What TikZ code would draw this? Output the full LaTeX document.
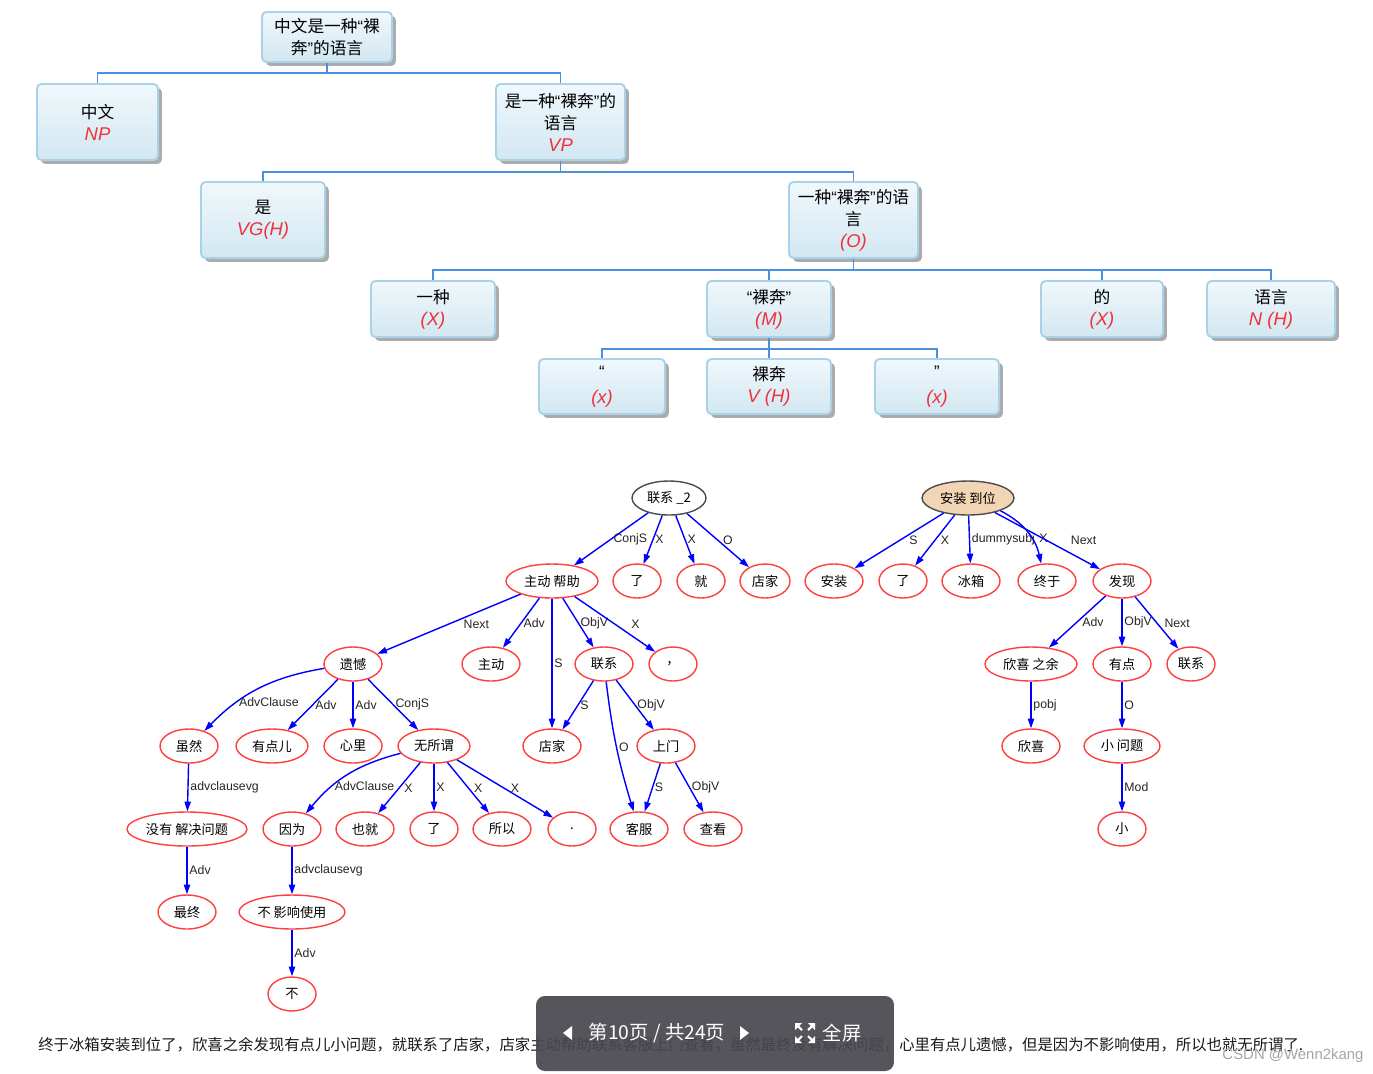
\documentclass[tikz,border=0pt]{standalone}
\usepackage{fontspec}
\setmainfont{Liberation Sans}
\newfontfamily\cjk{Noto Sans CJK SC}
\usetikzlibrary{shapes.geometric,shadows,arrows.meta}
\definecolor{boxblue}{HTML}{A9D2E8}
\definecolor{boxtop}{HTML}{F0F8FC}
\definecolor{boxbot}{HTML}{D2E7F1}
\definecolor{treeblue}{HTML}{4A90E2}
\definecolor{tagred}{HTML}{F0303A}
\definecolor{dotred}{HTML}{FF4040}
\definecolor{rootfill}{HTML}{F2D5B4}
\definecolor{barfill}{HTML}{47474E}
\newcommand\tg[1]{{\normalfont\itshape\fontsize{10.5}{12}\selectfont\color{tagred}#1}}
\newcommand\qo{{\normalfont “}}
\newcommand\qc{{\normalfont ”}}

\begin{document}
\begin{tikzpicture}[x=0.02cm,y=-0.02cm]
\tikzset{tbox/.style={rectangle, rounded corners=2.5pt, draw=boxblue, line width=1.1pt, top color=boxtop, bottom color=boxbot, align=center, inner sep=0pt, font=\cjk\fontsize{9.5}{12.5}\selectfont, drop shadow={shadow xshift=2.2pt, shadow yshift=-2.2pt, fill=black!55, opacity=0.6}}}
\tikzset{tline/.style={draw=treeblue, line width=0.9pt}}
\tikzset{wnode/.style={ellipse, draw=dotred, line width=0.8pt, fill=white, inner sep=0pt, minimum height=0.68cm, minimum width=#1*0.02cm, font=\cjk\fontsize{7.5}{9}\selectfont}, wnode/.default=58}
\tikzset{dep/.style={draw=blue, line width=0.8pt, -{Triangle[length=5.5pt,width=3.6pt]}}}
\tikzset{lbl/.style={anchor=west, inner sep=1pt, font=\fontsize{7}{8}\selectfont, text=black!85}}
\fill[white] (0,0) rectangle (1373,1073);
\useasboundingbox (0,0) rectangle (1373,1073);

% phrase tree
\node[tbox, minimum width=2.6cm, minimum height=1cm] (B0) at (327,37) {中文是一种\qo 裸\\奔\qc 的语言};
\node[tbox, minimum width=2.42cm, minimum height=1.52cm] (B1) at (97.5,122) {中文\\\tg{NP}};
\node[tbox, minimum width=2.58cm, minimum height=1.52cm] (B2) at (560.5,122) {是一种\qo 裸奔\qc 的\\语言\\\tg{VP}};
\node[tbox, minimum width=2.48cm, minimum height=1.52cm] (B3) at (263,220) {是\\\tg{VG(H)}};
\node[tbox, minimum width=2.58cm, minimum height=1.52cm] (B4) at (853.5,220) {一种\qo 裸奔\qc 的语\\言\\\tg{(O)}};
\node[tbox, minimum width=2.48cm, minimum height=1.12cm] (B5) at (433,309) {一种\\\tg{(X)}};
\node[tbox, minimum width=2.48cm, minimum height=1.12cm] (B6) at (769,309) {\qo 裸奔\qc\\\tg{(M)}};
\node[tbox, minimum width=2.44cm, minimum height=1.12cm] (B7) at (1102,309) {的\\\tg{(X)}};
\node[tbox, minimum width=2.56cm, minimum height=1.12cm] (B8) at (1271,309) {语言\\\tg{N (H)}};
\node[tbox, minimum width=2.52cm, minimum height=1.1cm] (B9) at (602,386.5) {\qo\\[2pt]\tg{(x)}};
\node[tbox, minimum width=2.48cm, minimum height=1.1cm] (B10) at (769,386.5) {裸奔\\\tg{V (H)}};
\node[tbox, minimum width=2.48cm, minimum height=1.1cm] (B11) at (937,386.5) {\qc\\[2pt]\tg{(x)}};
\draw[tline] (B0.south) -- ++(0,10) -| (B1.north);
\draw[tline] (B0.south) -- ++(0,10) -| (B2.north);
\draw[tline] (B2.south) -- ++(0,11) -| (B3.north);
\draw[tline] (B2.south) -- ++(0,11) -| (B4.north);
\draw[tline] (B4.south) -- ++(0,11) -| (B5.north);
\draw[tline] (B4.south) -- ++(0,11) -| (B6.north);
\draw[tline] (B4.south) -- ++(0,11) -| (B7.north);
\draw[tline] (B4.south) -- ++(0,11) -| (B8.north);
\draw[tline] (B6.south) -- ++(0,11) -| (B9.north);
\draw[tline] (B6.south) -- ++(0,11) -| (B10.north);
\draw[tline] (B6.south) -- ++(0,11) -| (B11.north);

% dependency graph
\node[wnode=74, draw=black!70] (lx2) at (669,498) {联系 \_2};
\node[wnode=92, draw=black!70, fill=rootfill] (azdw) at (968,498) {安装 到位};
\node[wnode=92] (zdbz) at (552,581) {主动 帮助};
\node[wnode=48] (le1) at (637,581) {了};
\node[wnode=48] (jiu) at (701,581) {就};
\node[wnode=50] (dj1) at (765,581) {店家};
\node[wnode] (az) at (834,581) {安装};
\node[wnode=48] (le2) at (903,581) {了};
\node[wnode] (bx) at (971,581) {冰箱};
\node[wnode] (zy) at (1047,581) {终于};
\node[wnode] (fx) at (1122,581) {发现};
\node[wnode] (yh) at (353,664) {遗憾};
\node[wnode] (zd) at (491,664) {主动};
\node[wnode] (lx) at (604,664) {联系};
\node[wnode=48] (dh) at (673,664) {，};
\node[wnode=92] (xxzy) at (1031,664) {欣喜 之余};
\node[wnode] (yd) at (1122,664) {有点};
\node[wnode=48] (lx3) at (1191,664) {联系};
\node[wnode] (sr) at (189,746) {虽然};
\node[wnode=72] (ydr) at (272,746) {有点儿};
\node[wnode] (xl) at (353,746) {心里};
\node[wnode=72] (wsw) at (434,746) {无所谓};
\node[wnode] (dj2) at (552,746) {店家};
\node[wnode] (sm) at (666,746) {上门};
\node[wnode] (xx) at (1031,746) {欣喜};
\node[wnode=76] (xwt) at (1122,746) {小 问题};
\node[wnode=120] (myjj) at (187,829) {没有 解决问题};
\node[wnode] (yw) at (292,829) {因为};
\node[wnode] (yj) at (365,829) {也就};
\node[wnode=48] (le3) at (434,829) {了};
\node[wnode] (sy) at (502,829) {所以};
\node[wnode=48] (jh) at (572,829) {.};
\node[wnode] (kf) at (639,829) {客服};
\node[wnode] (kk) at (713,829) {查看};
\node[wnode=48] (xiao) at (1122,829) {小};
\node[wnode] (zz) at (187,912) {最终};
\node[wnode=106] (bysy) at (292,912) {不 影响使用};
\node[wnode=48] (bu) at (292,994) {不};

\draw[dep] (lx2) -- node[lbl]{ConjS} (zdbz);
\draw[dep] (lx2) -- node[lbl]{X} (le1);
\draw[dep] (lx2) -- node[lbl]{X} (jiu);
\draw[dep] (lx2) -- node[lbl, xshift=1.5pt]{O} (dj1);
\draw[dep] (azdw) -- node[lbl, xshift=4.5pt]{S} (az);
\draw[dep] (azdw) -- node[lbl, xshift=2pt]{X} (le2);
\draw[dep] (azdw) -- node[lbl]{dummysubj} (bx);
\draw[dep] (azdw) to[bend left=25] node[lbl, pos=0.62, xshift=3pt]{X} (zy);
\draw[dep] (azdw) -- node[lbl, xshift=12pt]{Next} (fx);
\draw[dep] (zdbz) -- node[lbl, xshift=7pt]{Next} (yh);
\draw[dep] (zdbz) -- node[lbl]{Adv} (zd);
\draw[dep] (zdbz) -- node[lbl]{S} (dj2);
\draw[dep] (zdbz) -- node[lbl]{ObjV} (lx);
\draw[dep] (zdbz) -- node[lbl, xshift=8pt]{X} (dh);
\draw[dep] (lx) -- node[lbl]{S} (dj2);
\draw[dep] (lx) to[bend right=5] node[lbl]{O} (kf);
\draw[dep] (lx) -- node[lbl]{ObjV} (sm);
\draw[dep] (sm) -- node[lbl]{S} (kf);
\draw[dep] (sm) -- node[lbl]{ObjV} (kk);
\draw[dep] (yh) to[bend right=18] node[lbl, pos=0.7]{AdvClause} (sr);
\draw[dep] (yh) -- node[lbl]{Adv} (ydr);
\draw[dep] (yh) -- node[lbl]{Adv} (xl);
\draw[dep] (yh) -- node[lbl]{ConjS} (wsw);
\draw[dep] (sr) -- node[lbl]{advclausevg} (myjj);
\draw[dep] (myjj) -- node[lbl]{Adv} (zz);
\draw[dep] (wsw) to[bend right=18] node[lbl, pos=0.68]{AdvClause} (yw);
\draw[dep] (wsw) -- node[lbl, xshift=1.5pt]{X} (yj);
\draw[dep] (wsw) -- node[lbl]{X} (le3);
\draw[dep] (wsw) -- node[lbl, xshift=2pt]{X} (sy);
\draw[dep] (wsw) -- node[lbl, xshift=2pt]{X} (jh);
\draw[dep] (yw) -- node[lbl]{advclausevg} (bysy);
\draw[dep] (bysy) -- node[lbl]{Adv} (bu);
\draw[dep] (fx) -- node[lbl, xshift=1.5pt]{Adv} (xxzy);
\draw[dep] (fx) -- node[lbl]{ObjV} (yd);
\draw[dep] (fx) -- node[lbl, xshift=3pt]{Next} (lx3);
\draw[dep] (xxzy) -- node[lbl]{pobj} (xx);
\draw[dep] (yd) -- node[lbl]{O} (xwt);
\draw[dep] (xwt) -- node[lbl]{Mod} (xiao);

% sentence and page bar
\node[anchor=west, inner sep=0pt, font=\cjk\fontsize{8.75}{10}\selectfont, text=black!90] (sent) at (38,1045) {终于冰箱安装到位了，欣喜之余发现有点儿小问题，就联系了店家，店家主动帮助联系客服上门查看，虽然最终没有解决问题，心里有点儿遗憾，但是因为不影响使用，所以也就无所谓了.};
\node[fill=barfill, fill opacity=0.92, rounded corners=5pt, minimum width=7.16cm, minimum height=1.5cm] (bar) at (715,1033.5) {};
\node[text=white, font=\cjk\fontsize{11}{12}\selectfont] (pg) at (657,1033) {第10页 / 共24页};
\node[text=white, font=\cjk\fontsize{11}{12}\selectfont] (fs) at (842,1033) {全屏};
\fill[white] (563,1033) -- (572,1026) -- (572,1040) -- cycle;
\fill[white] (749,1033) -- (740,1026) -- (740,1040) -- cycle;
\fill[white] (795,1023) -- (802,1023) -- (795,1030) -- cycle;
\fill[white] (815,1023) -- (808,1023) -- (815,1030) -- cycle;
\fill[white] (795,1043) -- (802,1043) -- (795,1036) -- cycle;
\fill[white] (815,1043) -- (808,1043) -- (815,1036) -- cycle;
\draw[white, line width=1.2pt] (797,1025) -- (802,1030) (813,1025) -- (808,1030) (797,1041) -- (802,1036) (813,1041) -- (808,1036);
\node[text=black!35, font=\fontsize{8.5}{10}\selectfont] (wm) at (1293,1056) {CSDN @Wenn2kang};
\end{tikzpicture}
\end{document}
